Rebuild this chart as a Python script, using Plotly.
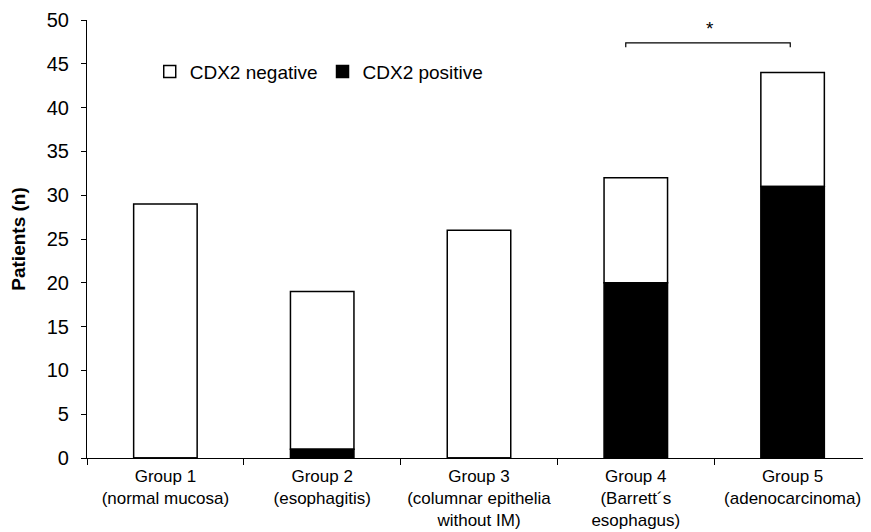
import plotly.graph_objects as go

categories = ["Group 1<br>(normal mucosa)", "Group 2<br>(esophagitis)",
              "Group 3<br>(columnar epithelia<br>without IM)",
              "Group 4<br>(Barrett´s<br>esophagus)", "Group 5<br>(adenocarcinoma)"]
positive = [0, 1, 0, 20, 31]
negative = [29, 18, 26, 12, 13]
y_ticks = [0, 5, 10, 15, 20, 25, 30, 35, 40, 45, 50]

fig = go.Figure()
fig.add_trace(go.Bar(name="CDX2 negative", x=categories, y=negative, base=positive,
                     marker=dict(color="white", line=dict(color="black", width=1.5)),
                     width=0.405, showlegend=True))
fig.add_trace(go.Bar(name="CDX2 positive", x=categories, y=positive,
                     marker=dict(color="black", line=dict(color="black", width=1.5)),
                     width=0.405, showlegend=True))

fig.update_layout(
    width=863, height=524,
    margin=dict(l=79, r=0, t=12, b=74),
    paper_bgcolor="white", plot_bgcolor="white",
    barmode="overlay",
    font=dict(family="Liberation Sans, Arial, sans-serif", size=19, color="black"),
    legend=dict(orientation="h", x=0.08, y=0.882, xanchor="left", yanchor="middle",
                font=dict(size=19), traceorder="normal", itemwidth=30,
                bgcolor="rgba(0,0,0,0)"),
    xaxis=dict(type="category", showline=True, linecolor="black", linewidth=1.2,
               ticks="outside", tickson="boundaries", ticklen=6, tickcolor="black",
               tickfont=dict(size=17), automargin=False, ticklabelstandoff=2,
               range=[-0.5, 4.5]),
    yaxis=dict(range=[0, 50], tickvals=y_ticks, showline=True, linecolor="black",
               linewidth=1.2, ticks="outside", ticklen=5, tickcolor="black",
               showgrid=False, zeroline=False, automargin=False,
               tickfont=dict(size=20), ticklabelstandoff=8,
               title=dict(text="<b>Patients (n)</b>", font=dict(size=19), standoff=17)),
)

fig.add_shape(type="path", xref="x", yref="y",
              path="M 2.936,46.9 L 2.936,47.4 L 3.985,47.4 L 3.985,46.9",
              line=dict(color="black", width=1.2))
fig.add_annotation(x=3.47, y=47.6, xref="x", yref="y", text="*", showarrow=False,
                   yanchor="bottom", font=dict(size=19))

fig.write_html("out.html")
